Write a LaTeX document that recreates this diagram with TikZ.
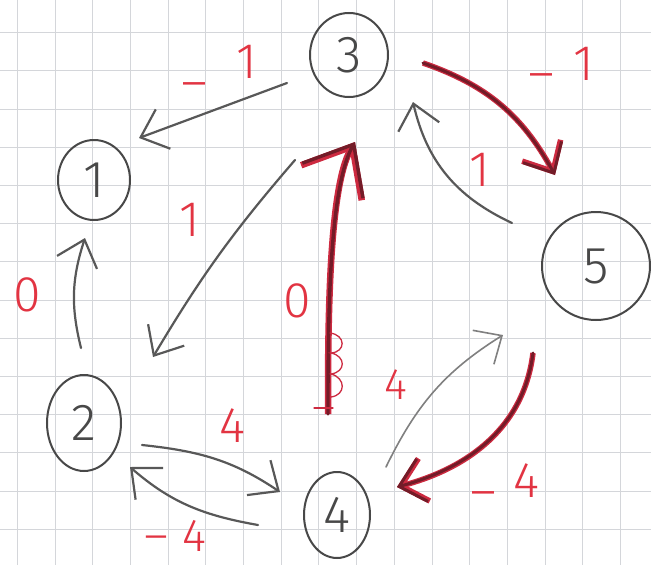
\documentclass[tikz,border=0pt]{standalone}
\usepackage{fontspec}
\setmainfont{Fira Sans}[UprightFont=* Light]
\usetikzlibrary{arrows.meta,shapes.geometric}
\definecolor{gridc}{RGB}{212,214,218}
\definecolor{ink}{RGB}{72,72,72}
\definecolor{edgec}{RGB}{88,88,88}
\definecolor{lightedge}{RGB}{128,128,128}
\definecolor{lblred}{RGB}{226,52,66}
\definecolor{rbright}{RGB}{205,42,64}
\definecolor{rdark}{RGB}{115,28,40}
\tikzset{
  gridline/.style={draw=gridc, line width=0.9pt},
  vert/.style={draw=ink, line width=2pt, ellipse, inner sep=0pt, text=ink,
    font=\fontsize{52}{52}\selectfont},
  lbl/.style={text=lblred, inner sep=0pt, font=\fontsize{50}{50}\selectfont},
  gedge/.style={draw=edgec, line width=2.2pt, line cap=round,
    -{Straight Barb[length=24pt,width=42pt]}},
  thinedge/.style={draw=lightedge, line width=1.6pt, line cap=round,
    -{Straight Barb[length=22pt,width=40pt]}},
  redge/.style={draw=rdark, line width=3pt, line cap=round,
    preaction={draw=rbright, line width=5.5pt},
    -{Straight Barb[length=24pt,width=44pt]}},
  bigredge/.style={draw=rdark, line width=3.4pt, line cap=round,
    preaction={draw=rbright, line width=6.5pt},
    -{Straight Barb[length=42pt,width=70pt]}},
  scribble/.style={draw=rbright, line width=1.3pt, line cap=round},
}
\begin{document}
\begin{tikzpicture}[x=1pt,y=-1pt]
\useasboundingbox (0,0) rectangle (651,565);
\fill[white] (0,0) rectangle (651,565);
% grid paper
\begin{scope}
\clip (0,0) rectangle (651,565);
\foreach \i in {0,...,17} \draw[gridline] ({17.3+37.7*\i},0) -- ({17.3+37.7*\i},565);
\foreach \j in {1,...,14} \draw[gridline] (0,{-5.5+38.2*\j}) -- (651,{-5.5+38.2*\j});
\end{scope}

% vertices
\node[vert, minimum width=72pt, minimum height=80pt] (n1) at (94,180) {1};
\node[vert, minimum width=74pt, minimum height=96pt] (n2) at (84,423) {2};
\node[vert, minimum width=78pt, minimum height=84pt] (n3) at (349,55) {3};
\node[vert, minimum width=66pt, minimum height=86pt] (n4) at (337,515) {4};
\node[vert, minimum width=108pt, minimum height=108pt] (n5) at (596,266) {5};

% gray edges
\draw[gedge] ([shift={(-62,28)}]n3.center) -- ([shift={(45,-42)}]n1.center);
\draw[gedge] ([shift={(-54,105)}]n3.center) to[bend right=5] ([shift={(69,-66)}]n2.center);
\draw[gedge] ([shift={(-3,-75)}]n2.center) to[bend left=16] ([shift={(-9,58)}]n1.center);
\draw[gedge] ([shift={(-84,-43)}]n5.center) to[out=155,in=-77] ([shift={(64,47)}]n3.center);
\draw[gedge] ([shift={(58,22)}]n2.center) to[out=-6,in=146] ([shift={(-57,-23)}]n4.center);
\draw[gedge] ([shift={(-79,10)}]n4.center) to[out=170,in=-41] ([shift={(46,44)}]n2.center);
\draw[thinedge] ([shift={(49,-48)}]n4.center) to[out=64,in=212] ([shift={(-93,69)}]n5.center);

% red edges (negative cycle)
\draw[bigredge] ([shift={(-9,-101)}]n4.center) to[out=90,in=240,out looseness=0.8,in looseness=0.5] ([shift={(6,87)}]n3.center);
\draw[redge] ([shift={(74,8)}]n3.center) to[out=-19,in=119] ([shift={(-41,-91)}]n5.center);
\draw[redge] ([shift={(-63,87)}]n5.center) to[out=263,in=15] ([shift={(60,-28)}]n4.center);

% scribbles on the 0-edge
\draw[scribble] (330,333) .. controls (346,335) and (346,352) .. (331,353)
  .. controls (346,356) and (346,372) .. (331,374)
  .. controls (346,378) and (346,395) .. (331,397);
\draw[scribble] (314,408) -- (333,408);

% weights
\node[lbl, anchor=base east] (w31) at (257,78) {\raisebox{-21pt}{–}\hspace{29pt}1};
\node[lbl, anchor=base east] (w35) at (594,80) {\raisebox{-10pt}{–}\hspace{19pt}1};
\node[lbl, anchor=base east] (w54) at (540,497) {\raisebox{-11pt}{–}\hspace{17pt}4};
\node[lbl, anchor=base east, font=\fontsize{46}{46}\selectfont] (w42) at (207,551) {\raisebox{0pt}{–}\hspace{15pt}4};
\node[lbl] (w32) at (190,220) {1};
\node[lbl] (w21) at (27,295) {0};
\node[lbl] (w43) at (297,301) {0};
\node[lbl] (w53) at (480,170) {1};
\node[lbl, font=\fontsize{44}{44}\selectfont] (w45) at (396,385) {4};
\node[lbl] (w24) at (232,426) {4};
\end{tikzpicture}
\end{document}
